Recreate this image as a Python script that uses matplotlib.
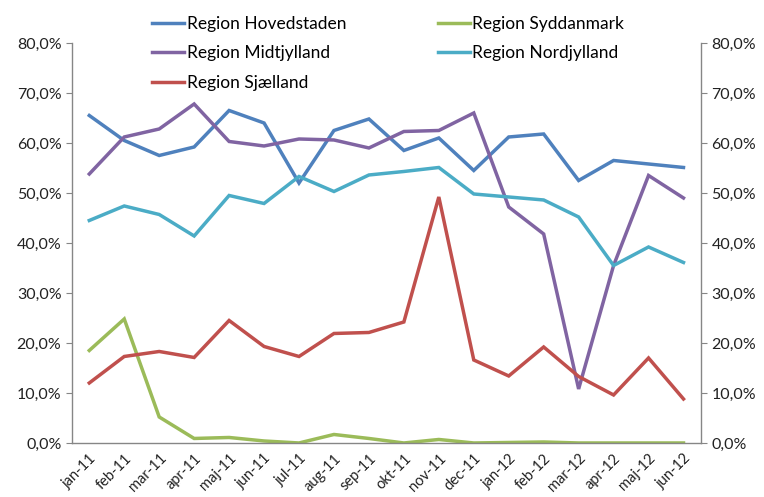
import matplotlib
matplotlib.use("Agg")
import matplotlib.pyplot as plt
from matplotlib.ticker import FuncFormatter, MultipleLocator

months = ["jan-11", "feb-11", "mar-11", "apr-11", "maj-11", "jun-11", "jul-11", "aug-11", "sep-11",
          "okt-11", "nov-11", "dec-11", "jan-12", "feb-12", "mar-12", "apr-12", "maj-12", "jun-12"]

hovedstaden = [65.5, 60.5, 57.5, 59.2, 66.5, 64.0, 52.0, 62.5, 64.8, 58.5, 61.0, 54.5, 61.2, 61.8, 52.5, 56.5, 55.8, 55.1]
midtjylland = [53.8, 61.2, 62.8, 67.8, 60.3, 59.4, 60.8, 60.6, 59.0, 62.3, 62.5, 66.0, 47.2, 41.8, 10.8, 35.5, 53.5, 49.0]
sjaelland = [12.0, 17.3, 18.3, 17.1, 24.5, 19.3, 17.3, 21.9, 22.1, 24.2, 49.2, 16.6, 13.4, 19.2, 13.3, 9.6, 17.0, 8.8]
syddanmark = [18.5, 24.8, 5.2, 0.9, 1.1, 0.4, 0.0, 1.7, 0.9, 0.0, 0.7, 0.0, 0.1, 0.2, 0.0, 0.0, 0.0, 0.0]
nordjylland = [44.5, 47.4, 45.7, 41.4, 49.5, 47.9, 53.3, 50.3, 53.6, 54.3, 55.1, 49.8, 49.2, 48.6, 45.2, 35.5, 39.2, 36.1]

series = [
    ("Region Hovedstaden", hovedstaden, "#4F81BD"),
    ("Region Midtjylland", midtjylland, "#8064A2"),
    ("Region Sjælland", sjaelland, "#C0504D"),
    ("Region Syddanmark", syddanmark, "#9BBB59"),
    ("Region Nordjylland", nordjylland, "#4BACC6"),
]
draw_order = [0, 3, 1, 4, 2]

plt.rcParams['font.family'] = ['Lato', 'DejaVu Sans']

fig = plt.figure(figsize=(7.64, 4.97), dpi=100)
ax = fig.add_axes([0.094, 0.1087, 0.8235, 0.8048])
x = list(range(len(months)))
handles = [None] * 5
for i in draw_order:
    name, vals, col = series[i]
    h, = ax.plot(x, vals, color=col, lw=2.5, label=name, solid_joinstyle='miter')
    handles[i] = h

ax.set_xlim(-0.5, len(months) - 0.5)
ax.set_ylim(0, 80)
ax.yaxis.set_major_locator(MultipleLocator(10))
fmt = FuncFormatter(lambda v, p: f"{v:.1f}%".replace(".", ","))
ax.yaxis.set_major_formatter(fmt)
ax.set_xticks(x)
ax.set_xticklabels(months, rotation=45, ha='right', rotation_mode='anchor', fontsize=10.5, color='#222222')
ax.tick_params(axis='x', length=0, pad=6)
ax.tick_params(axis='y', labelsize=11.5, colors='#222222', length=4, color='#868686')

ax2 = ax.twinx()
ax2.set_ylim(0, 80)
ax2.yaxis.set_major_locator(MultipleLocator(10))
ax2.yaxis.set_major_formatter(fmt)
ax2.tick_params(axis='y', labelsize=11.5, colors='#222222', length=4, color='#868686')

for a in (ax, ax2):
    a.spines['top'].set_visible(False)
    for s in ('left', 'right', 'bottom'):
        a.spines[s].set_color('#868686')
        a.spines[s].set_linewidth(1.0)
ax.spines['right'].set_visible(False)
ax2.spines['left'].set_visible(False)
ax2.spines['bottom'].set_visible(False)

fig.legend(handles=handles, labels=[s[0] for s in series], ncol=2, frameon=False,
           loc='upper left', bbox_to_anchor=(0.179, 1.0), fontsize=12.5,
           handlelength=1.85, handletextpad=0.15, columnspacing=5.25, labelspacing=0.78)

fig.savefig("out.png", dpi=100)
